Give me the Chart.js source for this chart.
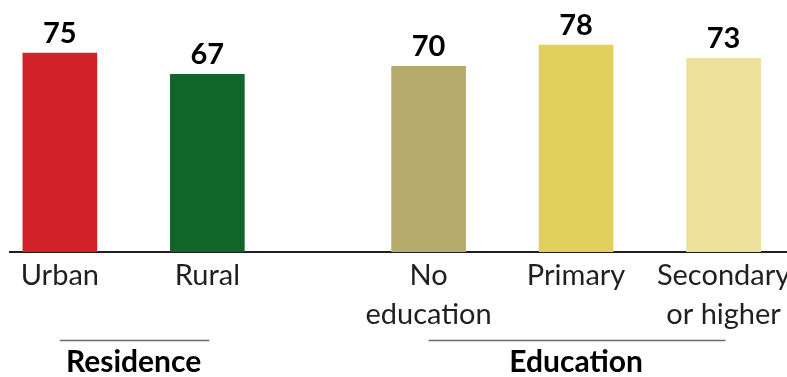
<!DOCTYPE html>
<html>
<head>
<meta charset="utf-8">
<script src="https://cdn.jsdelivr.net/npm/chart.js@4.4.1/dist/chart.umd.min.js"></script>
<style>
	html, body { margin: 0; padding: 0; background: #fff; }
	#wrap { width: 787px; height: 377px; position: relative; }
</style>
</head>
<body>
<div id="wrap"><canvas id="myChart"></canvas></div>
<script>
// Data
const categories = [['Urban'], ['Rural'], ['No', 'education'], ['Primary'], ['Secondary', 'or higher']];
const groups = ['Residence', 'Residence', 'Education', 'Education', 'Education'];
const values = [75, 67, 70, 78, 73];
const barColors = ['#D2232A', '#106529', '#B5AC6B', '#E0CF5B', '#EDE09A'];

const FONT = 'Lato, "Open Sans", sans-serif';

// slot positions: one unit per bar, half a unit of gap between groups
const positions = [];
let pos = 0;
groups.forEach((g, i) => {
	if (i > 0) pos += g === groups[i - 1] ? 1 : 1.5;
	positions.push(pos);
});

const points = values.map((v, i) => ({ x: positions[i], y: v }));

// numbers above the bars
const valueLabels = {
	id: 'valueLabels',
	afterDatasetsDraw(chart) {
		const ctx = chart.ctx;
		const meta = chart.getDatasetMeta(0);
		ctx.save();
		ctx.font = 'bold 29px ' + FONT;
		ctx.fillStyle = '#000';
		ctx.textAlign = 'center';
		ctx.textBaseline = 'alphabetic';
		meta.data.forEach((bar, i) => {
			ctx.fillText(values[i], bar.x, bar.y - 10);
		});
		ctx.restore();
	}
};

// group captions under the axis labels
const groupLabels = {
	id: 'groupLabels',
	afterDraw(chart) {
		const ctx = chart.ctx;
		const x = chart.scales.x;
		const names = [...new Set(groups)];
		ctx.save();
		names.forEach((name) => {
			const idx = groups.map((g, i) => g === name ? i : -1).filter(i => i >= 0);
			const x0 = x.getPixelForValue(positions[idx[0]]);
			const x1 = x.getPixelForValue(positions[idx[idx.length - 1]]);
			ctx.strokeStyle = '#6b6b6b';
			ctx.lineWidth = 1.5;
			ctx.beginPath();
			ctx.moveTo(x0, 340.5);
			ctx.lineTo(x1 + 2, 340.5);
			ctx.stroke();
			ctx.font = 'bold 30px ' + FONT;
			ctx.fillStyle = '#000';
			ctx.textAlign = 'center';
			ctx.textBaseline = 'alphabetic';
			ctx.fillText(name, (x0 + x1) / 2, 372);
		});
		ctx.restore();
	}
};

new Chart(document.getElementById('myChart'), {
	type: 'bar',
	data: {
		datasets: [{
			data: points,
			backgroundColor: barColors,
			barThickness: 74,
			borderWidth: 0
		}]
	},
	options: {
		responsive: true,
		maintainAspectRatio: false,
		animation: false,
		layout: { padding: { left: 10, right: 0, top: 0, bottom: 0 } },
		plugins: {
			legend: { display: false },
			tooltip: { enabled: false }
		},
		scales: {
			x: {
				type: 'linear',
				offset: false,
				min: -0.338,
				max: 4.93,
				grid: { display: false, drawTicks: false },
				border: { display: true, color: '#231F20', width: 2 },
				afterBuildTicks: (scale) => {
					scale.ticks = positions.map(v => ({ value: v }));
				},
				afterFit: (scale) => {
					scale.height = 125;
					scale.paddingLeft = 0;
					scale.paddingRight = 0;
				},
				ticks: {
					autoSkip: false,
					maxRotation: 0,
					padding: 4,
					color: '#231F20',
					font: { family: FONT, size: 29, lineHeight: 1.34 },
					callback: (value) => {
						const i = positions.indexOf(value);
						return i >= 0 ? categories[i] : '';
					}
				}
			},
			y: {
				display: false,
				min: 0,
				max: 95
			}
		}
	},
	plugins: [valueLabels, groupLabels]
});
</script>
</body>
</html>
